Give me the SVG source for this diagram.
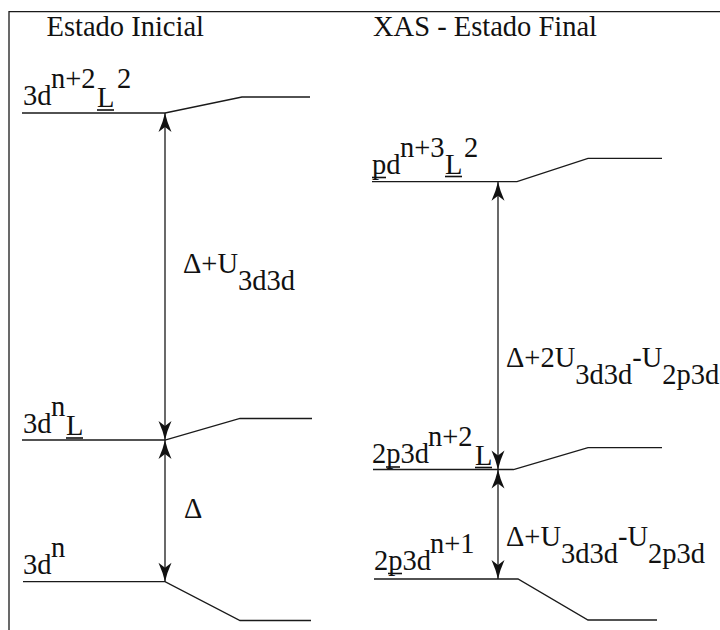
<svg xmlns="http://www.w3.org/2000/svg" width="720" height="630" viewBox="0 0 720 630">
<style>
  text { font-family: 'Liberation Serif', 'DejaVu Serif', 'Times New Roman', serif; font-size: 28.5px; fill: #111111; }
  .lv { fill: none; stroke: #1a1a1a; stroke-width: 1.3; }
  .ul { stroke: #111111; stroke-width: 1.6; }
  .ar { fill: none; stroke: #1a1a1a; stroke-width: 1.3; marker-start: url(#head); marker-end: url(#head); }
</style>
<defs>
  <marker id="head" viewBox="-22 -8 24 16" refX="0" refY="0" markerWidth="24" markerHeight="16" markerUnits="userSpaceOnUse" orient="auto-start-reverse" overflow="visible">
    <path d="M0,0 Q-9,-2 -19,-6.5 L-14,0 L-19,6.5 Q-9,2 0,0 Z" fill="#111111"/>
  </marker>
</defs>
<rect width="720" height="630" fill="#ffffff"/>
<path id="frame" class="lv" d="M9,630 V11.7 H720"/>
<g id="titles">
  <text x="46.5" y="36">Estado Inicial</text>
  <text x="373" y="36">XAS - Estado Final</text>
</g>
<g id="initial-3dn2L2">
  <path class="lv" d="M22,113 H165 L242,97 H310"/>
  <text x="23" y="105">3d</text>
  <text x="51" y="88">n+2</text>
  <text x="97" y="107">L</text>
  <line class="ul" x1="97" y1="110" x2="114" y2="110"/>
  <text x="117" y="88">2</text>
</g>
<g id="initial-3dnL">
  <path class="lv" d="M22,440 H165 L240,418.5 H312"/>
  <text x="23" y="433">3d</text>
  <text x="51" y="416">n</text>
  <text x="66" y="435">L</text>
  <line class="ul" x1="66" y1="438" x2="83" y2="438"/>
</g>
<g id="initial-3dn">
  <path class="lv" d="M23,581.7 H165 L240,620.5 H311"/>
  <text x="23" y="574">3d</text>
  <text x="51" y="557">n</text>
</g>
<g id="final-pdn3L2">
  <path class="lv" d="M372,181.7 H517 L588,158.3 H662"/>
  <text x="372" y="173.5">pd</text>
  <line class="ul" x1="372" y1="177.5" x2="386" y2="177.5"/>
  <text x="400" y="156.5">n+3</text>
  <text x="445" y="173.5">L</text>
  <line class="ul" x1="445" y1="176.5" x2="462" y2="176.5"/>
  <text x="464" y="156.5">2</text>
</g>
<g id="final-2p3dn2L">
  <path class="lv" d="M373,469.5 H513.5 L588,447.7 H662"/>
  <text x="372" y="463">2p3d</text>
  <line class="ul" x1="386" y1="467" x2="400" y2="467"/>
  <text x="428" y="446">n+2</text>
  <text x="475" y="465">L</text>
  <line class="ul" x1="475" y1="467.5" x2="492" y2="467.5"/>
</g>
<g id="final-2p3dn1">
  <path class="lv" d="M374,579 H518 L588,620 H657"/>
  <text x="374" y="570">2p3d</text>
  <line class="ul" x1="388" y1="573.5" x2="402" y2="573.5"/>
  <text x="430" y="553">n+1</text>
</g>
<g id="connectors">
  <line class="ar" x1="165" y1="113" x2="165" y2="440"/>
  <line class="ar" x1="165" y1="440" x2="165" y2="581.7"/>
  <line class="ar" x1="498" y1="181.7" x2="498" y2="469.5"/>
  <line class="ar" x1="498" y1="469.5" x2="498" y2="579"/>
  <text x="183" y="273">Δ+U<tspan dy="17">3d3d</tspan></text>
  <text x="184" y="518">Δ</text>
  <text x="506" y="367">Δ+2U<tspan dy="17">3d3d</tspan><tspan dy="-17">-U</tspan><tspan dy="17">2p3d</tspan></text>
  <text x="506" y="546">Δ+U<tspan dy="17">3d3d</tspan><tspan dy="-17">-U</tspan><tspan dy="17">2p3d</tspan></text>
</g>
</svg>
